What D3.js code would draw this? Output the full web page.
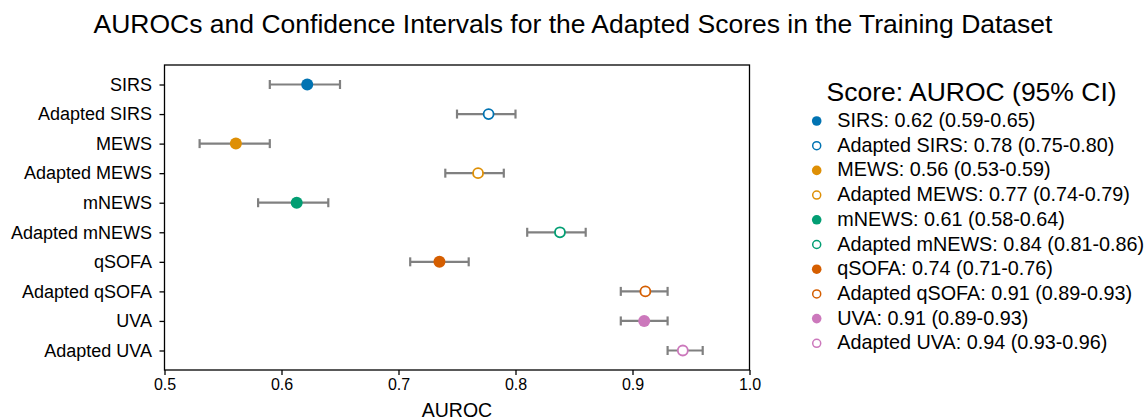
<!DOCTYPE html>
<html><head><meta charset="utf-8">
<script src="https://cdn.jsdelivr.net/npm/d3@7"></script>
<style>body{margin:0;background:#fff}svg{display:block}text{font-family:"Liberation Sans",Arial,sans-serif;fill:#000}</style>
</head><body><svg id="c" width="1148" height="420"></svg>
<script>
const scores = ["SIRS","Adapted SIRS","MEWS","Adapted MEWS","mNEWS","Adapted mNEWS","qSOFA","Adapted qSOFA","UVA","Adapted UVA"];
const auroc = [0.622,0.777,0.561,0.768,0.613,0.838,0.735,0.911,0.910,0.943];
const ciLow = [0.59,0.75,0.53,0.74,0.58,0.81,0.71,0.89,0.89,0.93];
const ciHigh = [0.65,0.80,0.59,0.79,0.64,0.86,0.76,0.93,0.93,0.96];
const legendLabels = ["SIRS: 0.62 (0.59-0.65)","Adapted SIRS: 0.78 (0.75-0.80)","MEWS: 0.56 (0.53-0.59)","Adapted MEWS: 0.77 (0.74-0.79)","mNEWS: 0.61 (0.58-0.64)","Adapted mNEWS: 0.84 (0.81-0.86)","qSOFA: 0.74 (0.71-0.76)","Adapted qSOFA: 0.91 (0.89-0.93)","UVA: 0.91 (0.89-0.93)","Adapted UVA: 0.94 (0.93-0.96)"];
const colors = ["#0173b2","#0173b2","#de8f05","#de8f05","#029e73","#029e73","#d55e00","#d55e00","#cc78bc","#cc78bc"];
const adapted = [false,true,false,true,false,true,false,true,false,true];
const xTicks = [0.5,0.6,0.7,0.8,0.9,1.0];

const svg = d3.select("#c");
const L=164.5, R=749.5, T=65, B=370;
const x = d3.scaleLinear().domain([0.5,1.0]).range([L,R]);
const y = d3.scalePoint().domain(scores).range([T,B]).padding(0.66);

svg.append("text").attr("x",573).attr("y",33).attr("text-anchor","middle").style("font-size","26.5px")
  .text("AUROCs and Confidence Intervals for the Adapted Scores in the Training Dataset");

// frame
svg.append("rect").attr("x",L).attr("y",T).attr("width",R-L).attr("height",B-T).attr("fill","none").attr("stroke","#000").attr("stroke-width",1.3);

const gx = svg.append("g").attr("transform",`translate(0,${B})`)
  .call(d3.axisBottom(x).tickValues(xTicks).tickFormat(d3.format(".1f")).tickSize(5).tickPadding(4));
gx.select(".domain").remove();
gx.selectAll("line").attr("stroke","#000").attr("stroke-width",1.3);
gx.selectAll("text").style("font-size","16px").style("font-family",'"Liberation Sans",Arial,sans-serif');

const gy = svg.append("g").attr("transform",`translate(${L},0)`)
  .call(d3.axisLeft(y).tickSize(5).tickPadding(7.5));
gy.select(".domain").remove();
gy.selectAll("line").attr("stroke","#000").attr("stroke-width",1.3);
gy.selectAll("text").style("font-size","18px").style("font-family",'"Liberation Sans",Arial,sans-serif');

svg.append("text").attr("x",(L+R)/2).attr("y",417).attr("text-anchor","middle").style("font-size","19.5px").text("AUROC");

// error bars
const eb = svg.append("g").attr("stroke","#808080").attr("stroke-width",2.2);
scores.forEach((s,i)=>{
  const yy=y(s);
  eb.append("line").attr("x1",x(ciLow[i])).attr("x2",x(ciHigh[i])).attr("y1",yy).attr("y2",yy);
  eb.append("line").attr("x1",x(ciLow[i])).attr("x2",x(ciLow[i])).attr("y1",yy-4.5).attr("y2",yy+4.5);
  eb.append("line").attr("x1",x(ciHigh[i])).attr("x2",x(ciHigh[i])).attr("y1",yy-4.5).attr("y2",yy+4.5);
});
scores.forEach((s,i)=>{
  const c=svg.append("circle").attr("cx",x(auroc[i])).attr("cy",y(s));
  if(adapted[i]) c.attr("r",5).attr("fill","#fff").attr("stroke",colors[i]).attr("stroke-width",1.8);
  else c.attr("r",6).attr("fill",colors[i]);
});

// legend
const lg = svg.append("g");
lg.append("text").attr("x",826.5).attr("y",100.7).style("font-size","26.5px").text("Score: AUROC (95% CI)");
legendLabels.forEach((t,i)=>{
  const yy = 127 + i*24.7;
  const c=lg.append("circle").attr("cx",816.7).attr("cy",yy-6);
  if(adapted[i]) c.attr("r",4).attr("fill","#fff").attr("stroke",colors[i]).attr("stroke-width",1.5);
  else c.attr("r",4.8).attr("fill",colors[i]);
  lg.append("text").attr("x",837.3).attr("y",yy).style("font-size","19.8px").text(t);
});
</script></body></html>
